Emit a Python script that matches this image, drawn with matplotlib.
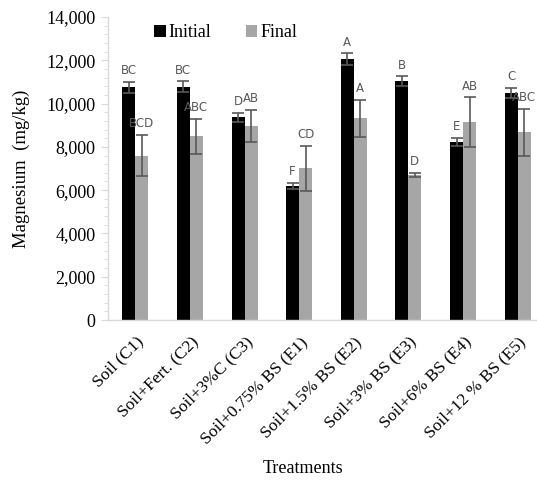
import numpy as np
import matplotlib
matplotlib.use("Agg")
import matplotlib.pyplot as plt
from matplotlib.ticker import MultipleLocator, FuncFormatter

# Mg content per treatment, before and after incubation
treatments = ["Soil (C1)", "Soil+Fert. (C2)", "Soil+3%C (C3)", "Soil+0.75% BS (E1)",
              "Soil+1.5% BS (E2)", "Soil+3% BS (E3)", "Soil+6% BS (E4)", "Soil+12 % BS (E5)"]
initial = [10750, 10780, 9370, 6200, 12050, 11030, 8230, 10500]
initial_err = [250, 245, 210, 130, 270, 230, 190, 240]
final = [7600, 8500, 8970, 7010, 9320, 6700, 9150, 8680]
final_err = [950, 810, 730, 1040, 855, 90, 1140, 1090]
initial_letters = ["BC", "BC", "D", "F", "A", "B", "E", "C"]
final_letters = ["BCD", "ABC", "AB", "CD", "A", "D", "AB", "ABC"]

serif = "Liberation Serif"
plt.rcParams["font.family"] = serif

fig = plt.figure(figsize=(5.37, 4.84), dpi=100)
ax = fig.add_axes([0.2011, 0.3388, 0.8138, 0.6261])
ax.patch.set_visible(False)

x = np.arange(len(treatments))
w = 0.238
ecol = "#595959"
ekw = dict(ecolor=ecol, elinewidth=1.2, capsize=4.5, capthick=1.2)
ax.bar(x - w / 2, initial, w, color="black", label="Initial", yerr=initial_err, error_kw=ekw)
ax.bar(x + w / 2, final, w, color="#a6a6a6", label="Final", yerr=final_err, error_kw=ekw)

# significance letters above the error bars
for i in range(len(x)):
    ax.text(x[i] - w / 2, initial[i] + initial_err[i] + 220, initial_letters[i],
            ha="center", va="bottom", fontsize=8.5, color=ecol, family="DejaVu Sans")
    ax.text(x[i] + w / 2, final[i] + final_err[i] + 220, final_letters[i],
            ha="center", va="bottom", fontsize=8.5, color=ecol, family="DejaVu Sans")

ax.set_xlim(-0.5, len(x) - 0.5)
ax.set_ylim(0, 14000)
ax.yaxis.set_major_locator(MultipleLocator(2000))
ax.yaxis.set_minor_locator(MultipleLocator(400))
ax.yaxis.set_major_formatter(FuncFormatter(lambda v, p: f"{int(v):,}"))

for s in ["top", "right"]:
    ax.spines[s].set_visible(False)
for s in ["left", "bottom"]:
    ax.spines[s].set_color("#d9d9d9")
    ax.spines[s].set_linewidth(1.0)

ax.tick_params(axis="y", which="major", length=5, color="#d9d9d9", labelsize=13, pad=4)
ax.tick_params(axis="y", which="minor", length=3, color="#d9d9d9")
ax.tick_params(axis="x", length=0, labelsize=12.5, pad=10)
ax.set_xticks(x)
ax.set_xticklabels(treatments, rotation=45, ha="right", rotation_mode="anchor")

ax.set_ylabel("Magnesium  (mg/kg)", fontsize=13.5, labelpad=12)
fig.text(0.565, 0.033, "Treatments", ha="center", va="center", fontsize=13)

fig.legend(loc="center", bbox_to_anchor=(0.42, 0.932), ncol=2, frameon=False,
           fontsize=13, handlelength=0.65, handleheight=0.65, handletextpad=0.15,
           columnspacing=1.9)

fig.savefig("out.png", dpi=100)
